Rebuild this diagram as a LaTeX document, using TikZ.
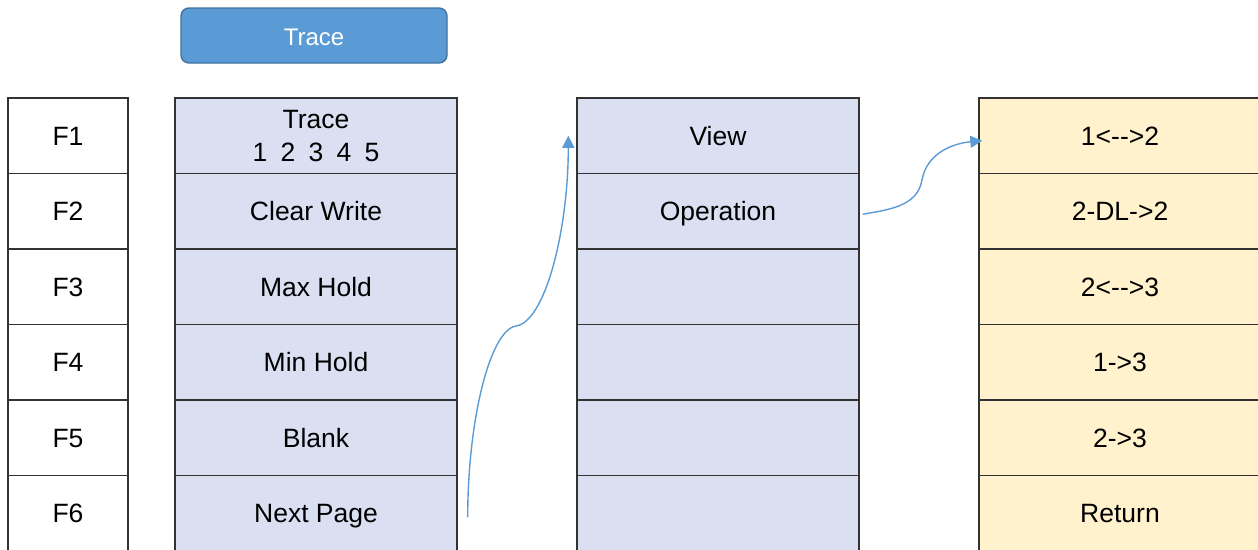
\documentclass[tikz,border=0pt]{standalone}
\usepackage{fontspec}
\setmainfont{Liberation Sans}
\usepackage{tikz}
\usetikzlibrary{arrows.meta,calc,shapes}

\definecolor{keyblue}{RGB}{91,155,213}
\definecolor{keyedge}{RGB}{65,113,156}
\definecolor{menufill}{RGB}{218,224,242}
\definecolor{subfill}{RGB}{255,242,204}
\definecolor{gridline}{RGB}{50,50,50}

\begin{document}
\begin{tikzpicture}[x=1pt,y=-1pt]
\tikzset{
	box/.style = {rectangle, draw = gridline, line width = 1.4pt, inner sep = 0,
		minimum height = 75.5pt, font = \fontsize{26.5}{33}\selectfont},
	cell/.style = {box, text height = 24pt, text depth = 4.8pt},
	fkey cell/.style = {cell, minimum width = 120pt, fill = white},
	menu cell/.style = {cell, minimum width = 282pt, fill = menufill},
	sub cell/.style = {cell, minimum width = 282pt, fill = subfill},
	flow/.style = {draw = keyblue, line width = 1.4pt, -{Triangle[length=12pt,width=12pt]}},
}
\useasboundingbox (0,0) rectangle (1258,549);
\clip (0,0) rectangle (1258,549);
% softkey on top
\node(tracekey)[rectangle, rounded corners = 8pt, fill = keyblue, draw = keyedge, line width = 1.4pt,
	minimum width = 266pt, minimum height = 55pt, text = white, font = \fontsize{24}{28}\selectfont,
	text height = 25pt, text depth = 4.8pt]
	at(314,35.5){Trace};
% function keys
\node(f1)[fkey cell]at(68,135.75){F1};
\node(f2)[fkey cell]at(68,211.25){F2};
\node(f3)[fkey cell]at(68,286.75){F3};
\node(f4)[fkey cell]at(68,362.25){F4};
\node(f5)[fkey cell]at(68,437.75){F5};
\node(f6)[fkey cell]at(68,513.25){F6};
% trace menu
\node(trace)[box, align = center, minimum width = 282pt, fill = menufill]at(316,135.75)
	{Trace\\1\hspace{0.5em}2\hspace{0.5em}3\hspace{0.5em}4\hspace{0.5em}5};
\node(clear)[menu cell]at(316,211.25){Clear Write};
\node(max)[menu cell]at(316,286.75){Max Hold};
\node(min)[menu cell]at(316,362.25){Min Hold};
\node(blank)[menu cell]at(316,437.75){Blank};
\node(next)[menu cell]at(316,513.25){Next Page};
% second page
\node(view)[menu cell]at(718,135.75){View};
\node(oper)[menu cell]at(718,211.25){Operation};
\node(p3)[menu cell]at(718,286.75){};
\node(p4)[menu cell]at(718,362.25){};
\node(p5)[menu cell]at(718,437.75){};
\node(p6)[menu cell]at(718,513.25){};
% operation menu
\node(op1)[sub cell]at(1120,135.75){1<-{}->2};
\node(op2)[sub cell]at(1120,211.25){2-DL->2};
\node(op3)[sub cell]at(1120,286.75){2<-{}->3};
\node(op4)[sub cell]at(1120,362.25){1->3};
\node(op5)[sub cell]at(1120,437.75){2->3};
\node(ret)[sub cell]at(1120,513.25){Return};
% arrows
\coordinate(bend1)at(516,326);
\coordinate(bend2)at(922,180);
\draw[flow]([xshift=10pt,yshift=-4pt]next.east) .. controls +(0,-97) and +(-26,4) .. (bend1)
	.. controls +(29,-4) and +(0,95) .. ([xshift=-8pt]view.west);
\draw[flow]([xshift=3pt,yshift=-3pt]oper.east) to[out=10,in=-100] (bend2)
	to[out=80,in=185] ([xshift=4pt,yshift=-5pt]op1.west);
\end{tikzpicture}
\end{document}
